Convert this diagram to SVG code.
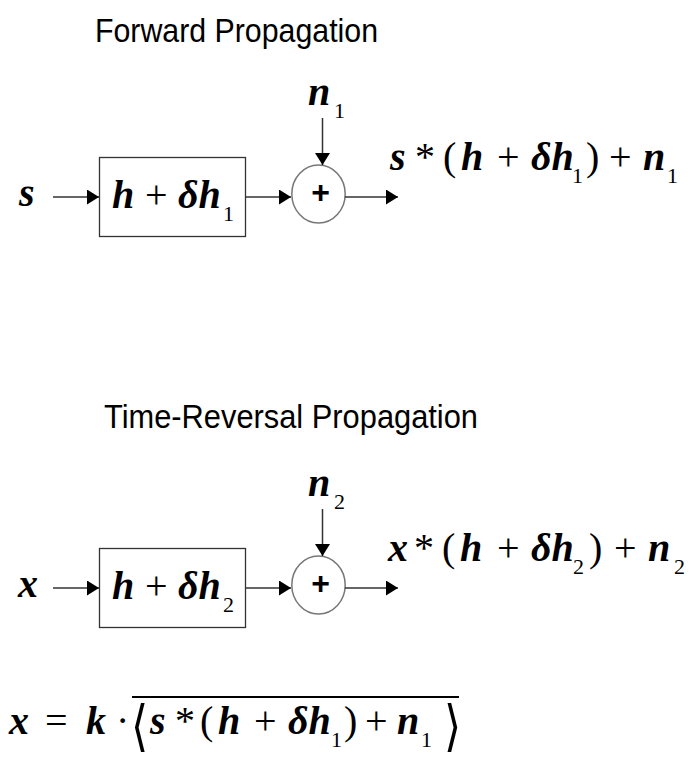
<svg xmlns="http://www.w3.org/2000/svg" width="694" height="759" viewBox="0 0 694 759">
<defs>
<marker id="ah" markerUnits="userSpaceOnUse" markerWidth="13" markerHeight="15" refX="12" refY="7.5" orient="auto"><path d="M0,0 L12,7.5 L0,15 z" fill="#000"/></marker>
<style>
.title{font-family:"Liberation Sans",Arial,sans-serif;font-size:34px;fill:#000}
.m{font-family:"Liberation Serif","Times New Roman",serif;font-size:40px;fill:#000;font-style:italic;font-weight:bold}
.sub{font-size:22px;font-style:normal;font-weight:normal}
.op{font-style:normal;font-weight:normal}
.br{font-family:"DejaVu Sans",sans-serif;font-size:44px;font-weight:normal;fill:#000}
.box{fill:#fff;stroke:#333;stroke-width:1.3}
.sum{fill:#fff;stroke:#777;stroke-width:1.5}
.plus{font-family:"Liberation Sans",Arial,sans-serif;font-size:32px;font-weight:bold;text-anchor:middle;fill:#000}
.conn line{stroke:#333;stroke-width:1.5;marker-end:url(#ah)}
</style>
</defs>
<rect width="694" height="759" fill="#fff"/>

<g id="title-forward"><text class="title" x="95" y="42" textLength="283" lengthAdjust="spacingAndGlyphs">Forward Propagation</text></g>

<g id="input-s"><text class="m" x="19" y="206">s</text></g>
<g id="box-h1">
<rect class="box" x="99.5" y="157.5" width="146" height="79"/>
<text class="m" y="208"><tspan x="112">h</tspan><tspan class="op" x="145">+</tspan><tspan x="178">δh</tspan><tspan class="sub" x="223" y="221">1</tspan></text>
</g>
<g id="sum-1">
<ellipse class="sum" cx="318.5" cy="194" rx="26.7" ry="29"/>
<text class="plus" x="320.5" y="203">+</text>
</g>
<g id="label-n1"><text class="m" y="105"><tspan x="308">n</tspan><tspan class="sub" x="334" y="118">1</tspan></text></g>
<g id="output-1"><text class="m" y="170"><tspan x="390">s</tspan><tspan class="op" x="415">*</tspan><tspan class="op" x="443">(</tspan><tspan x="461">h</tspan><tspan class="op" x="497">+</tspan><tspan x="531">δh</tspan><tspan class="sub" x="572" y="183">1</tspan><tspan class="op" x="586" y="170">)</tspan><tspan class="op" x="609">+</tspan><tspan x="643">n</tspan><tspan class="sub" x="667" y="183">1</tspan></text></g>

<g id="title-reversal"><text class="title" x="104" y="428" textLength="374" lengthAdjust="spacingAndGlyphs">Time-Reversal Propagation</text></g>

<g id="input-x"><text class="m" x="18" y="597">x</text></g>
<g id="box-h2">
<rect class="box" x="99.5" y="548.5" width="146" height="79"/>
<text class="m" y="599"><tspan x="112">h</tspan><tspan class="op" x="145">+</tspan><tspan x="178">δh</tspan><tspan class="sub" x="223" y="612">2</tspan></text>
</g>
<g id="sum-2">
<ellipse class="sum" cx="318.5" cy="585" rx="26.7" ry="29"/>
<text class="plus" x="320.5" y="594">+</text>
</g>
<g id="label-n2"><text class="m" y="496"><tspan x="308">n</tspan><tspan class="sub" x="334" y="509">2</tspan></text></g>
<g id="output-2"><text class="m" y="561"><tspan x="388">x</tspan><tspan class="op" x="414">*</tspan><tspan class="op" x="442">(</tspan><tspan x="460">h</tspan><tspan class="op" x="497">+</tspan><tspan x="531">δh</tspan><tspan class="sub" x="573" y="574">2</tspan><tspan class="op" x="589" y="561">)</tspan><tspan class="op" x="614">+</tspan><tspan x="648">n</tspan><tspan class="sub" x="674" y="574">2</tspan></text></g>

<g id="formula">
<text class="m" y="734"><tspan x="9">x</tspan><tspan class="op" x="45">=</tspan><tspan x="86">k</tspan><tspan class="op" x="116">·</tspan><tspan x="150">s</tspan><tspan class="op" x="175">*</tspan><tspan class="op" x="200">(</tspan><tspan x="218">h</tspan><tspan class="op" x="254">+</tspan><tspan x="288">δh</tspan><tspan class="sub" x="331" y="747">1</tspan><tspan class="op" x="344" y="734">)</tspan><tspan class="op" x="365">+</tspan><tspan x="397">n</tspan><tspan class="sub" x="421" y="747">1</tspan></text>
<text class="br" transform="translate(131,745) scale(1,1.25)">⟨</text>
<text class="br" transform="translate(444,745) scale(1,1.25)">⟩</text>
<line x1="132" y1="697" x2="459" y2="697" stroke="#000" stroke-width="2"/>
</g>

<g id="connectors" class="conn">
<line x1="53" y1="197" x2="99" y2="197"/>
<line x1="245" y1="197" x2="291" y2="197"/>
<line x1="345" y1="197" x2="398" y2="197"/>
<line x1="322.5" y1="118" x2="322.5" y2="165"/>
<line x1="53" y1="588" x2="99" y2="588"/>
<line x1="245" y1="588" x2="291" y2="588"/>
<line x1="345" y1="588" x2="398" y2="588"/>
<line x1="322.5" y1="509" x2="322.5" y2="556"/>
</g>
</svg>
